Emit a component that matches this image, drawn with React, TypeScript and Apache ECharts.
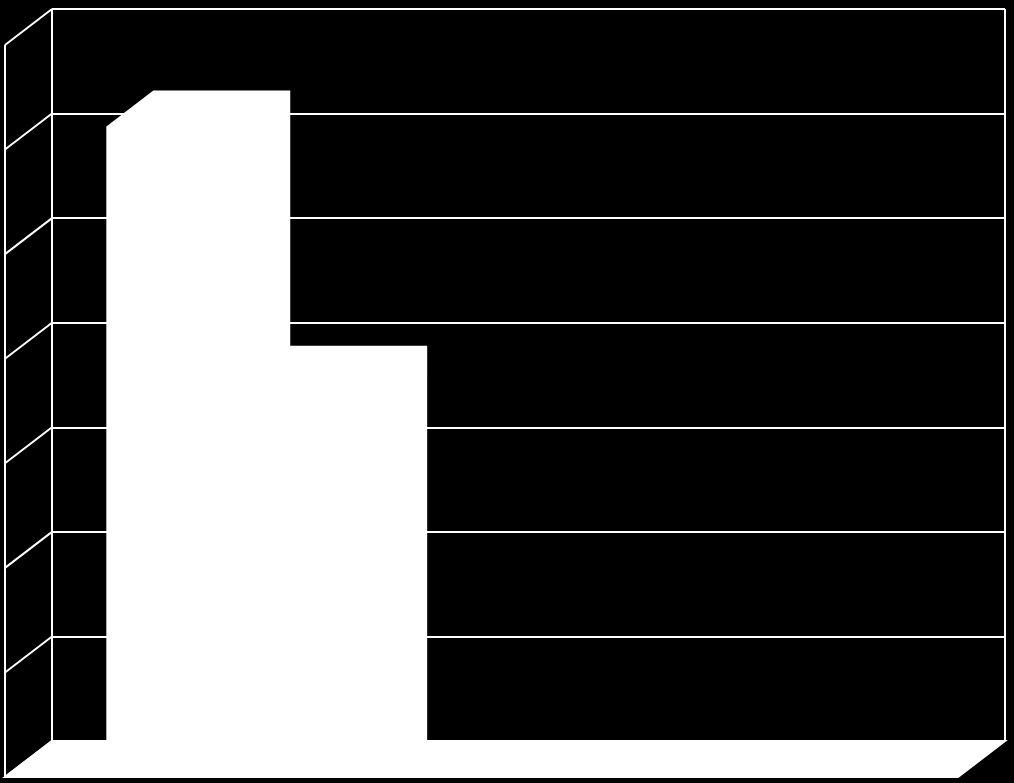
import React, { useEffect, useRef } from 'react';
import * as echarts from 'echarts';

// two categories, two series side by side (the second category is empty)
const categories = ['1', '2'];
const seriesA = [62.2, 0];
const seriesB = [37.8, 0];
const yTicks = [0, 10, 20, 30, 40, 50, 60, 70];

// fake 3d depth: offset of the front plane from the back wall
const DX = -47;
const DY = 36;
const GAP = 1.48; // gap width, as a share of one bar
const SERIES_COUNT = 2;

const line = (x1: number, y1: number, x2: number, y2: number, w = 2) => ({
  type: 'line',
  shape: { x1, y1, x2, y2 },
  style: { stroke: '#fff', lineWidth: w },
});

const frameItem = (params: any, api: any) => {
  const cs = params.coordSys;
  const left = cs.x;
  const right = cs.x + cs.width;
  const top = cs.y;
  const bottom = cs.y + cs.height;
  const children: any[] = [
    {
      type: 'polygon',
      shape: {
        points: [
          [left, bottom],
          [right, bottom],
          [right + DX, bottom + DY],
          [left + DX, bottom + DY],
        ],
      },
      style: { fill: '#fff', stroke: '#fff', lineWidth: 2 },
    },
    line(left, top, left, bottom),
    line(left + DX, top + DY, left + DX, bottom + DY),
    line(right, top, right, bottom),
  ];
  yTicks.forEach((t) => {
    const y = api.coord([0, t])[1];
    children.push(line(left, y, left + DX, y + DY));
  });
  return { type: 'group', children };
};

const barItem = (seriesIndex: number) => (params: any, api: any) => {
  const idx = api.value(0);
  const val = api.value(1);
  const [cx, top] = api.coord([idx, val]);
  const base = api.coord([idx, 0])[1];
  const band = api.size([1, 0])[0];
  const w = band / (SERIES_COUNT + GAP);
  const x0 = cx - band / 2 + (GAP / 2) * w + seriesIndex * w;
  const x1 = x0 + w;
  return {
    type: 'polygon',
    shape: {
      points: [
        [x0 + DX, top + DY],
        [x0, top],
        [x1, top],
        [x1, base],
        [x1 + DX, base + DY],
        [x0 + DX, base + DY],
      ],
    },
    style: { fill: '#fff' },
  };
};

const App: React.FC = () => {
  const chartRef = useRef<HTMLDivElement>(null);

  useEffect(() => {
    document.body.style.margin = '0';
    document.body.style.background = '#000';
    const chart = echarts.init(chartRef.current, null, { renderer: 'svg' });

    const option = {
      animation: false,
      backgroundColor: '#000',
      grid: { left: 52, right: 9, top: 9, bottom: 42 },
      xAxis: {
        type: 'category',
        data: categories,
        axisLine: { show: false },
        axisTick: { show: false },
        axisLabel: { show: false },
        splitLine: { show: false },
      },
      yAxis: {
        type: 'value',
        min: 0,
        max: 70,
        interval: 10,
        axisLine: { show: false },
        axisTick: { show: false },
        axisLabel: { show: false },
        splitLine: { show: true, lineStyle: { color: '#fff', width: 2 } },
      },
      series: [
        {
          type: 'custom',
          silent: true,
          z: 1,
          renderItem: frameItem,
          data: [[0, 0]],
        },
        {
          type: 'custom',
          z: 2,
          renderItem: barItem(0),
          data: seriesA.map((v, i) => [i, v]),
        },
        {
          type: 'custom',
          z: 2,
          renderItem: barItem(1),
          data: seriesB.map((v, i) => [i, v]),
        },
      ],
    };

    chart.setOption(option);

    return () => {
      chart.dispose();
    };
  }, []);

  return <div ref={chartRef} style={{ width: '1014px', height: '783px' }} />;
};

export default App;
